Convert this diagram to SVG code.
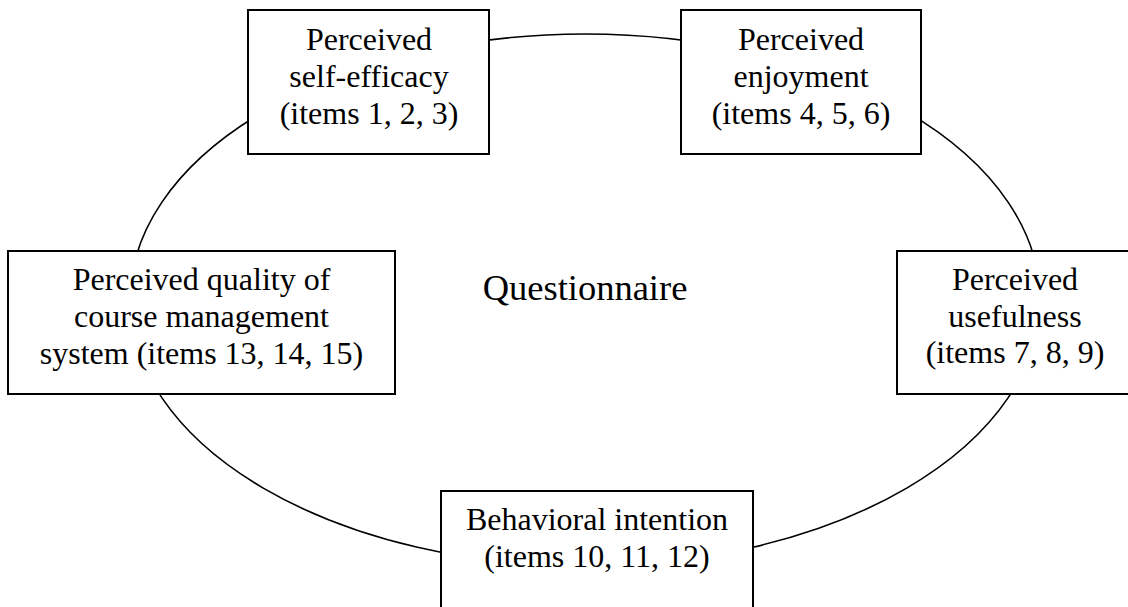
<svg xmlns="http://www.w3.org/2000/svg" width="1128" height="607" viewBox="0 0 1128 607">
  <style>
    .box { fill: #ffffff; stroke: #000000; stroke-width: 2; }
    .ring { fill: none; stroke: #000000; stroke-width: 1.6; }
    .lbl { font-family: "Liberation Serif", "Times New Roman", serif; font-size: 32px; fill: #000000; text-anchor: middle; }
    .title { font-family: "Liberation Serif", "Times New Roman", serif; font-size: 36.5px; fill: #000000; text-anchor: middle; }
  </style>
  <rect width="1128" height="607" fill="#ffffff"/>

  <!-- connector: the ring linking all constructs -->
  <g id="connectors">
    <ellipse class="ring" cx="585" cy="300" rx="455" ry="266"/>
  </g>

  <g id="center-label">
    <text class="title" x="585" y="300">Questionnaire</text>
  </g>

  <g id="self-efficacy">
    <rect class="box" x="248" y="10" width="241" height="144"/>
    <text class="lbl" x="369" y="50">Perceived</text>
    <text class="lbl" x="369" y="87">self-efficacy</text>
    <text class="lbl" x="369" y="124">(items 1, 2, 3)</text>
  </g>

  <g id="enjoyment">
    <rect class="box" x="681" y="10" width="240" height="144"/>
    <text class="lbl" x="801" y="50">Perceived</text>
    <text class="lbl" x="801" y="87">enjoyment</text>
    <text class="lbl" x="801" y="124">(items 4, 5, 6)</text>
  </g>

  <g id="quality">
    <rect class="box" x="8" y="251" width="387" height="143"/>
    <text class="lbl" x="201.5" y="290">Perceived quality of</text>
    <text class="lbl" x="201.5" y="327">course management</text>
    <text class="lbl" x="201.5" y="364">system (items 13, 14, 15)</text>
  </g>

  <g id="usefulness">
    <rect class="box" x="897" y="251" width="236" height="143"/>
    <text class="lbl" x="1015" y="290">Perceived</text>
    <text class="lbl" x="1015" y="327">usefulness</text>
    <text class="lbl" x="1015" y="363">(items 7, 8, 9)</text>
  </g>

  <g id="intention">
    <rect class="box" x="441" y="491" width="312" height="125"/>
    <text class="lbl" x="597" y="530">Behavioral intention</text>
    <text class="lbl" x="597" y="567">(items 10, 11, 12)</text>
  </g>
</svg>
